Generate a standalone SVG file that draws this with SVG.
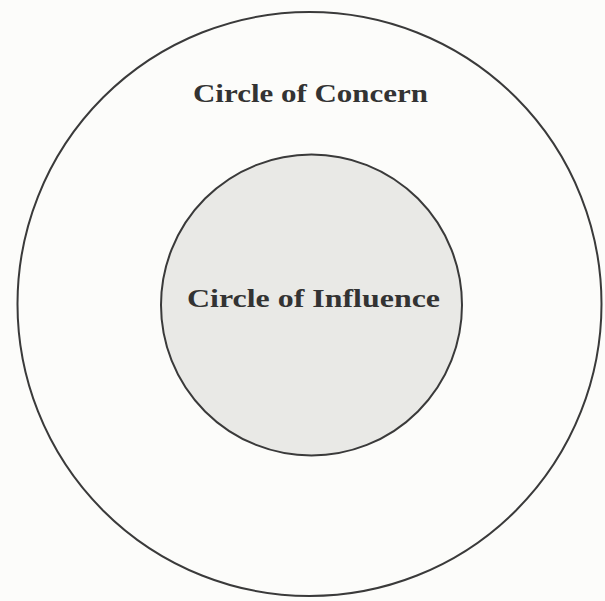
<svg xmlns="http://www.w3.org/2000/svg" width="605" height="601" viewBox="0 0 605 601">
<style>
.ring{stroke:#3a3a3a;stroke-width:2}
.lbl{font-family:"Liberation Serif","DejaVu Serif",serif;font-weight:bold;fill:#333;font-size:26px}
</style>
<rect width="605" height="601" fill="#fcfcfa"/>
<g id="concern">
<circle class="ring" cx="309.5" cy="304" r="292" fill="#fcfcfa"/>
<text class="lbl" x="310.5" y="102" text-anchor="middle" textLength="235" lengthAdjust="spacingAndGlyphs">Circle of Concern</text>
</g>
<g id="influence">
<circle class="ring" cx="311.5" cy="305" r="150.5" fill="#e9e9e6"/>
<text class="lbl" x="313.5" y="307" text-anchor="middle" textLength="253" lengthAdjust="spacingAndGlyphs">Circle of Influence</text>
</g>
<g id="connectors"/>
</svg>
